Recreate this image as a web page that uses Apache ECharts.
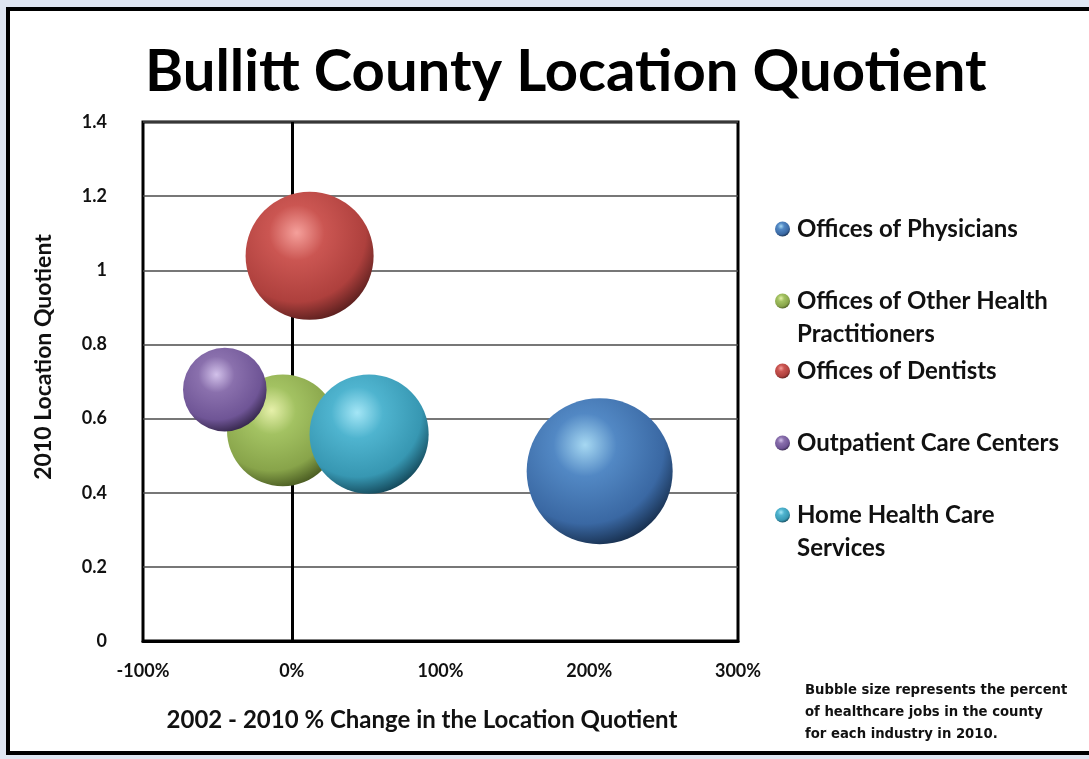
<!DOCTYPE html>
<html>
<head>
<meta charset="utf-8">
<script src="https://cdn.jsdelivr.net/npm/echarts@6/dist/echarts.min.js"></script>
<style>
html,body{margin:0;padding:0;background:#dfe6f2;}
#main{width:1089px;height:759px;}
</style>
</head>
<body>
<div id="main"></div>
<script>
// ---- data ----
var seriesNames = ['Offices of Physicians', 'Offices of Other Health Practitioners', 'Offices of Dentists', 'Outpatient Care Centers', 'Home Health Care Services'];
var pctChange = [207, -6, 12, -45, 52];          // 2002-2010 % change in LQ
var locationQuotient = [0.458, 0.568, 1.039, 0.678, 0.558]; // 2010 LQ
var jobShare = [29.9, 17.5, 23.0, 9.8, 19.9];    // % of healthcare jobs (bubble size)
var xTicks = [-100, 0, 100, 200, 300];
var yTicks = [0, 0.2, 0.4, 0.6, 0.8, 1, 1.2, 1.4];

// ---- styles ----
var palettes = [
  ['#a6d8f2', '#5288c4', '#3a68a3', '#152b48'],
  ['#e6f0aa', '#a3c262', '#88a44a', '#45561f'],
  ['#f5a09b', '#cb5652', '#ae403d', '#551d1c'],
  ['#d2c1ea', '#8a70ad', '#6f5596', '#312346'],
  ['#a4e6f6', '#4fb4cf', '#3797b2', '#124354']
];
function ballColor(p) {
  return {
    type: 'radial', x: 0.4, y: 0.32, r: 0.72,
    colorStops: [
      {offset: 0, color: p[0]},
      {offset: 0.3, color: p[1]},
      {offset: 0.75, color: p[2]},
      {offset: 1, color: p[3]}
    ]
  };
}
var maxShare = Math.max.apply(null, jobShare);
var FONT = 'Lato, "Open Sans", sans-serif';

var series = seriesNames.map(function (name, i) {
  var s = {
    name: name,
    type: 'scatter',
    data: [[pctChange[i], locationQuotient[i], jobShare[i]]],
    symbolSize: function (d) { return 146 * Math.sqrt(d[2] / maxShare); },
    itemStyle: {color: ballColor(palettes[i]), opacity: 1},
    emphasis: {disabled: true}
  };
  if (i === 0) {
    s.markLine = {
      silent: true, symbol: 'none', label: {show: false},
      lineStyle: {color: '#000', width: 3, type: 'solid'},
      data: [{xAxis: 0}],
      z: 1
    };
  }
  return s;
});

var legendFirstLine = ['Offices of Physicians', 'Offices of Other Health', 'Offices of Dentists', 'Outpatient Care Centers', 'Home Health Care'];
var legendCenterY = [229, 301, 371, 443, 515];
var legends = seriesNames.map(function (name, i) {
  return {
    data: [name],
    left: 775, top: legendCenterY[i] - 15,
    orient: 'vertical', padding: 0,
    icon: 'circle', itemWidth: 15, itemHeight: 15, itemGap: 6,
    selectedMode: false,
    formatter: function () { return legendFirstLine[i]; },
    textStyle: {fontFamily: FONT, fontWeight: 'bold', fontSize: 24, lineHeight: 30, color: '#111', padding: [0, 0, 0, 2]}
  };
});

var chart = echarts.init(document.getElementById('main'));
chart.setOption({
  backgroundColor: '#dfe6f2',
  animation: false,
  title: {
    text: 'Bullitt County Location Quotient',
    left: 140, top: 38,
    textStyle: {fontFamily: FONT, fontWeight: 'bold', fontSize: 58, color: '#000'}
  },
  legend: legends,
  grid: {left: 143, right: 351, top: 122, bottom: 118, show: true, borderColor: '#000', borderWidth: 3, backgroundColor: 'transparent'},
  xAxis: {
    type: 'value', min: -100, max: 300, interval: 100,
    axisLine: {show: true, onZero: false, lineStyle: {color: '#000', width: 3}},
    axisTick: {show: false},
    splitLine: {show: false},
    axisLabel: {
      margin: 21, fontFamily: FONT, fontWeight: 'bold', fontSize: 18, color: '#111',
      formatter: function (v) { return xTicks.indexOf(v) >= 0 ? v + '%' : ''; }
    }
  },
  yAxis: {
    type: 'value', min: 0, max: 1.4, interval: 0.2,
    axisLine: {show: false},
    axisTick: {show: false},
    splitLine: {show: true, lineStyle: {color: '#4a4a4a', width: 1.5}},
    axisLabel: {
      margin: 36, fontFamily: FONT, fontWeight: 'bold', fontSize: 18, color: '#111',
      formatter: function (v) {
        var t = yTicks.filter(function (y) { return Math.abs(y - v) < 1e-6; });
        return t.length ? String(+t[0].toFixed(1)) : '';
      }
    }
  },
  graphic: [
    {type: 'rect', z: -10, silent: true, shape: {x: 8, y: 9, width: 1100, height: 744},
     style: {fill: '#fff', stroke: '#000', lineWidth: 4}},
    {type: 'text', silent: true, x: 44, y: 357, rotation: Math.PI / 2,
     style: {text: '2010 Location Quotient', fontFamily: FONT, fontWeight: 'bold', fontSize: 23, fill: '#111', align: 'center', verticalAlign: 'middle'}},
    {type: 'text', silent: true, x: 422, y: 720,
     style: {text: '2002 - 2010 % Change in the Location Quotient', fontFamily: FONT, fontWeight: 'bold', fontSize: 24, fill: '#111', align: 'center', verticalAlign: 'middle'}},
    {type: 'text', silent: true, x: 797, y: 334,
     style: {text: 'Practitioners', fontFamily: FONT, fontWeight: 'bold', fontSize: 24, fill: '#111', align: 'left', verticalAlign: 'middle'}},
    {type: 'text', silent: true, x: 797, y: 548,
     style: {text: 'Services', fontFamily: FONT, fontWeight: 'bold', fontSize: 24, fill: '#111', align: 'left', verticalAlign: 'middle'}},
    {type: 'text', silent: true, x: 805, y: 679,
     style: {text: 'Bubble size represents the percent\nof healthcare jobs in the county\nfor each industry in 2010.', fontFamily: '"Liberation Sans Narrow", "DejaVu Sans Condensed", sans-serif', fontWeight: 'bold', fontSize: 14.7, lineHeight: 22, fill: '#111', align: 'left', verticalAlign: 'top'}}
  ],
  series: series
});
</script>
</body>
</html>
